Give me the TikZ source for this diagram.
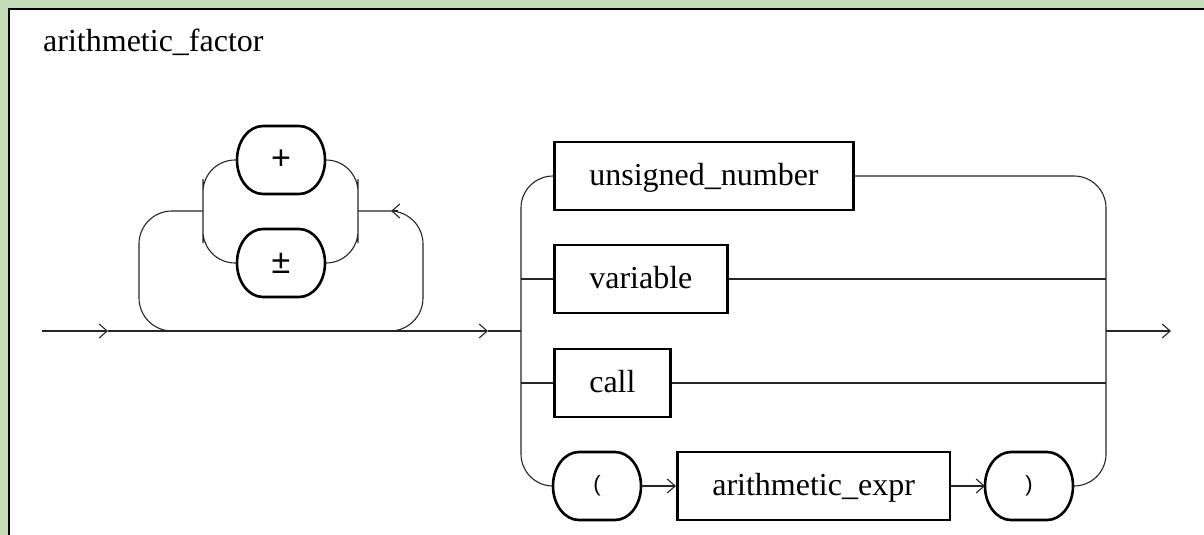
\documentclass[tikz,border=0pt]{standalone}
\usepackage{fontspec}
\setmainfont{Liberation Serif}
\newfontfamily\symfont{Liberation Sans}
\usetikzlibrary{arrows.meta}
\definecolor{bg}{HTML}{C3DEB8}
\newcommand\drawoval[1]{%
  \draw[line width=2.6pt]
    ([xshift=-26pt]#1.north east)
    .. controls ([xshift=-11.6pt]#1.north east) and ([yshift=-15.2pt]#1.north east) .. (#1.east)
    .. controls ([yshift=15.2pt]#1.south east) and ([xshift=-11.6pt]#1.south east) .. ([xshift=-26pt]#1.south east)
    -- ([xshift=26pt]#1.south west)
    .. controls ([xshift=11.6pt]#1.south west) and ([yshift=15.2pt]#1.south west) .. (#1.west)
    .. controls ([yshift=-15.2pt]#1.north west) and ([xshift=11.6pt]#1.north west) .. ([xshift=26pt]#1.north west)
    -- cycle;}
\begin{document}
\begin{tikzpicture}[x=1pt,y=-1pt,
  conn/.style={line width=1.1pt, draw=black!85},
  tip/.style={-{Straight Barb[length=8pt,width=14pt,line width=1.1pt]}},
  ntbox/.style={draw, line width=2.6pt, minimum height=68pt, inner xsep=35pt,
    text height=23pt, text depth=5pt, font=\fontsize{32}{36}\selectfont},
  tbox/.style={outer sep=0pt, minimum height=68pt,
    minimum width=88pt, inner sep=0pt, font=\symfont\fontsize{34}{36}\selectfont},
  pbox/.style={tbox, font=\symfont\fontsize{22}{26}\selectfont},
  ]
\useasboundingbox (0,0) rectangle (1204,535);
\clip (0,0) rectangle (1204,535);
\fill[bg] (0,0) rectangle (1204,535);
\draw[line width=2pt, fill=white] (9,9) rectangle (1240,580);

\node[anchor=base west, inner sep=0pt, font=\fontsize{32}{36}\selectfont] (title) at (43,52) {arithmetic\_factor};

% coordinates
\coordinate (start) at (42,331);
\coordinate (a1) at (108,331);
\coordinate (a2) at (488,331);
\coordinate (ichL) at (203,211);
\coordinate (ichR) at (358,211);
\coordinate (loopL) at (139,331);
\coordinate (loopLend) at (200,331);
\coordinate (loopR) at (423,331);
\coordinate (loopRend) at (360,331);
\coordinate (lt1) at (398,211);
\coordinate (lt2) at (391,211);
\coordinate (chL) at (521,331);
\coordinate (chR) at (1106,331);
\coordinate (end) at (1171,331);

% nodes
\node[tbox] (plus) at (281,160) {+};
\node[tbox] (pm) at (281,263) {±};
\node[ntbox, anchor=west] (un) at (553,176) {unsigned\_number};
\node[ntbox, anchor=west] (var) at (553,279) {variable};
\node[ntbox, anchor=west] (call) at (553,383) {call};
\node[pbox, anchor=west] (lp) at (553,486) {(};
\node[ntbox, anchor=west] (expr) at (676,486) {arithmetic\_expr};
\node[pbox, anchor=west] (rp) at (985,486) {)};
\drawoval{plus}
\drawoval{pm}
\drawoval{lp}
\drawoval{rp}

% main line
\draw[conn, tip] (start) -- (a1);
\draw[conn, tip] (a1) -- (a2);
\draw[conn] (a2) -- (chL);

% loop with inner choice
\draw[conn, rounded corners=32pt] (plus.west) -| (ichL) |- (pm.west);
\draw[conn, rounded corners=32pt] (plus.east) -| (ichR) |- (pm.east);
\draw[conn, rounded corners=33pt] (ichL) -| (loopL) -- (loopLend);
\draw[conn, rounded corners=33pt] (ichR) -| (loopR) -- (loopRend);
\draw[conn, tip] (lt1) -- (lt2);

% right choice
\draw[conn, rounded corners=32pt] (un.west) -| (chL) |- (lp.west);
\draw[conn] (chL |- var.west) -- (var.west);
\draw[conn] (chL |- call.west) -- (call.west);
\draw[conn, rounded corners=32pt] (un.east) -| (chR) |- (rp.east);
\draw[conn] (var.east) -- (var.east -| chR);
\draw[conn] (call.east) -- (call.east -| chR);
\draw[conn, tip] (lp) -- (expr);
\draw[conn, tip] (expr) -- (rp);
\draw[conn, tip] (chR) -- (end);
\end{tikzpicture}
\end{document}
